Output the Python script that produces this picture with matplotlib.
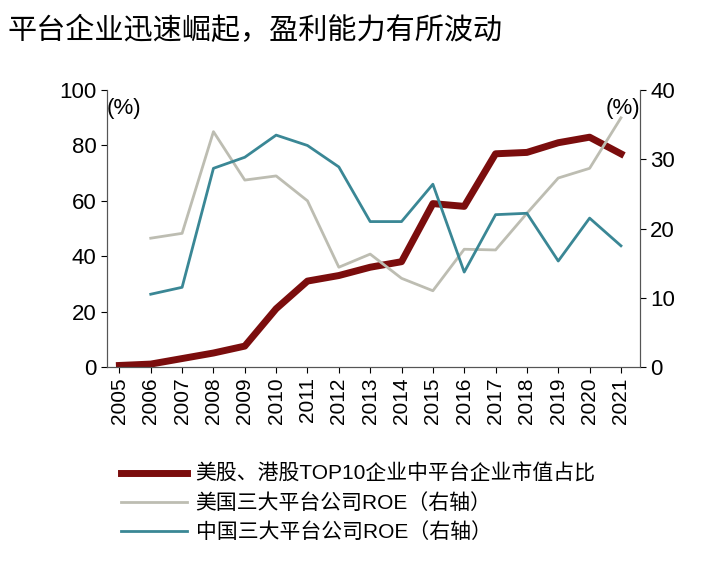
import matplotlib
matplotlib.use('Agg')
import matplotlib.pyplot as plt

plt.rcParams['font.family'] = ['Liberation Sans', 'Noto Sans CJK SC', 'DejaVu Sans']

years = list(range(2005, 2022))
share_top10 = [0.5, 1, 3, 5, 7.5, 21, 31, 33, 36, 38, 59, 58, 77, 77.5, 81, 83, 77]
roe_years = list(range(2006, 2022))
roe_us = [18.6, 19.3, 34, 27, 27.6, 24, 14.4, 16.3, 12.8, 11, 17, 16.9, 22.2, 27.3, 28.7, 36]
roe_cn = [10.5, 11.5, 28.7, 30.3, 33.5, 32, 28.9, 21, 21, 26.4, 13.7, 22, 22.2, 15.3, 21.5, 17.5]

fig = plt.figure(figsize=(7.27, 5.67), dpi=100)
ax = fig.add_axes([0.147, 0.353, 0.733, 0.488])
ax2 = ax.twinx()

l1, = ax.plot(years, share_top10, color='#7B0D0D', lw=5, label='美股、港股TOP10企业中平台企业市值占比')
l2, = ax2.plot(roe_years, roe_us, color='#BDBDB2', lw=2, label='美国三大平台公司ROE（右轴）')
l3, = ax2.plot(roe_years, roe_cn, color='#3A8795', lw=2, label='中国三大平台公司ROE（右轴）')

ax.set_ylim(0, 100)
ax2.set_ylim(0, 40)
ax.set_xlim(2004.6, 2021.6)
ax.set_yticks(range(0, 101, 20))
ax2.set_yticks(range(0, 41, 10))
ax.set_xticks(years)
ax.set_xticklabels([str(y) for y in years], rotation=90)
for a in (ax, ax2):
    a.tick_params(labelsize=16, length=4, direction='out')
    a.spines['top'].set_visible(False)
    for s in ('left', 'right', 'bottom'):
        a.spines[s].set_color('#555555')
ax.tick_params(axis='x', labelsize=15)

ax.text(0.0, 0.97, '(%)', transform=ax.transAxes, fontsize=16, ha='left', va='top')
ax.text(1.0, 0.97, '(%)', transform=ax.transAxes, fontsize=16, ha='right', va='top')

title = fig.text(0.01, 0.945, '平台企业迅速崛起，盈利能力有所波动', fontsize=21, ha='left', va='center')

fig.legend(handles=[l1, l2, l3], loc='upper left', bbox_to_anchor=(0.14, 0.215),
           frameon=False, fontsize=15, handlelength=3.2, handletextpad=0.4, labelspacing=0.45)

fig.savefig('out.png', dpi=100)
